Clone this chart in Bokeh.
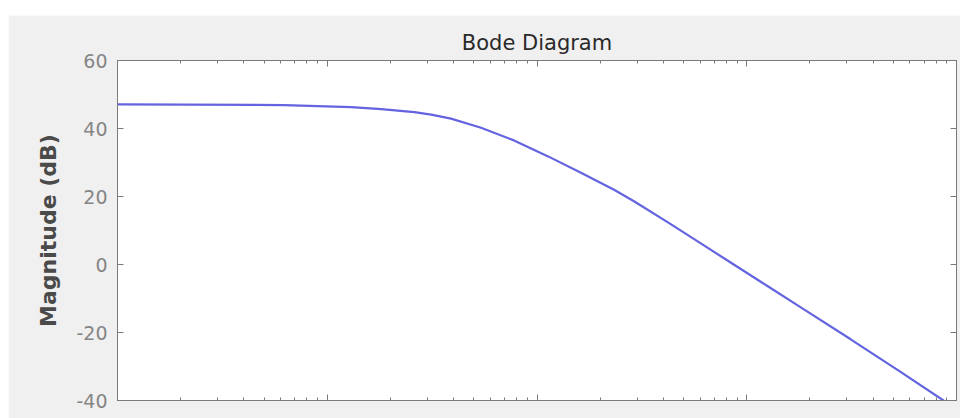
from bokeh.plotting import figure
from bokeh.models import Range1d, LogAxis, LinearAxis, LogTicker, FixedTicker
from bokeh.embed import file_html
from bokeh.resources import INLINE

# Data (frequency in rad/s, magnitude in dB)
freq = [0.1, 0.624, 1.30, 1.81, 2.60, 3.13, 3.89, 5.41, 7.77, 11.3, 16.2, 23.3,
        29.0, 42.1, 60.4, 86.7, 126, 181, 313, 541, 867, 1000]
mag_db = [47.1, 46.9, 46.3, 45.7, 44.8, 44.1, 42.9, 40.2, 36.5, 31.8, 27.0, 22.0,
          18.6, 12.4, 6.2, 0.0, -6.4, -12.6, -22.0, -31.6, -40.0, -42.5]
y_ticks = [-40, -20, 0, 20, 40, 60]
y_tick_labels = ["-40", "-20", "0", "20", "40", "60"]
title_text = "Bode Diagram"
y_label = "Magnitude (dB)"

FONT = "DejaVu Sans"
AX = "#7a7a7a"
p = figure(width=952, height=403, output_backend="svg", toolbar_location=None,
           x_axis_type="log", x_range=Range1d(0.1, 1000), y_range=Range1d(-40, 60),
           min_border_left=109, min_border_right=4, min_border_top=45, min_border_bottom=18,
           background_fill_color="white", border_fill_color="#f0f0f0")
p.styles = {"margin-left": "8px", "margin-top": "15px"}
p.grid.visible = False
p.outline_line_color = AX

p.title.text = title_text
p.title.align = "center"
p.title.text_font = FONT
p.title.text_font_size = "21px"
p.title.text_font_style = "normal"
p.title.text_color = "#2a2a2a"
p.title.standoff = 12

def style(ax, labels):
    ax.axis_line_color = AX
    ax.major_tick_line_color = AX
    ax.minor_tick_line_color = AX
    ax.major_tick_in = 6
    ax.major_tick_out = 0
    ax.minor_tick_in = 3
    ax.minor_tick_out = 0
    if not labels:
        ax.major_label_text_font_size = "1px"
        ax.major_label_text_color = None
        ax.major_label_standoff = 0

xb = p.xaxis[0]
style(xb, False)
xb.ticker = LogTicker(num_minor_ticks=10)

yl = p.yaxis[0]
style(yl, True)
yl.ticker = FixedTicker(ticks=y_ticks)
yl.major_label_overrides = {t: s for t, s in zip(y_ticks, y_tick_labels)}
yl.minor_tick_line_color = None
yl.major_label_text_font = FONT
yl.major_label_text_font_size = "19px"
yl.major_label_text_color = "#858585"
yl.major_label_standoff = 10
yl.axis_label = y_label
yl.axis_label_text_font = FONT
yl.axis_label_text_font_size = "22px"
yl.axis_label_text_font_style = "bold"
yl.axis_label_text_color = "#4a4a4a"
yl.axis_label_standoff = 12

xt = LogAxis(ticker=LogTicker(num_minor_ticks=10))
style(xt, False)
p.add_layout(xt, "above")

yr = LinearAxis(ticker=FixedTicker(ticks=y_ticks))
style(yr, False)
yr.minor_tick_line_color = None
p.add_layout(yr, "right")

p.line(freq, mag_db, line_color="#6464e0", line_width=2.2)

open("out.html", "w").write(file_html(p, INLINE))
